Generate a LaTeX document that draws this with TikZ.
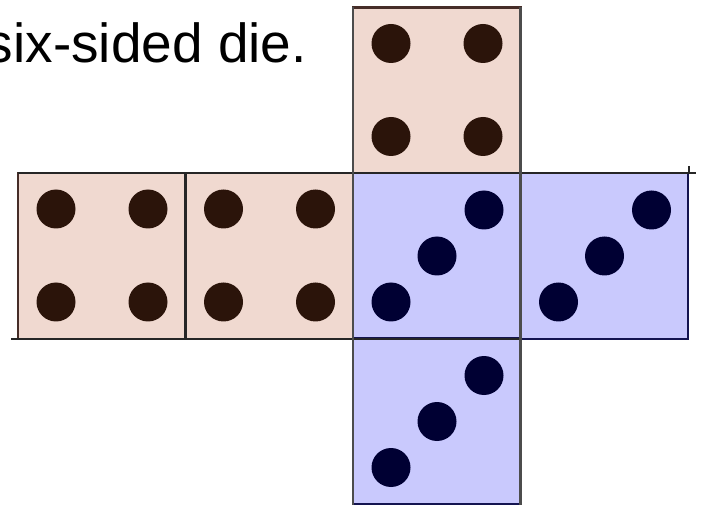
\documentclass[tikz,border=0pt]{standalone}
\usepackage{fontspec}
\setmainfont{Liberation Sans}
\definecolor{pinkface}{RGB}{240,217,208}
\definecolor{blueface}{RGB}{201,201,253}
\definecolor{browndot}{RGB}{43,20,10}
\definecolor{navydot}{RGB}{0,0,51}
\definecolor{brownedge}{RGB}{70,45,40}
\definecolor{navyedge}{RGB}{20,20,80}
\tikzset{
  pinksq/.style={fill=pinkface, draw=brownedge, line width=2.2pt},
  bluesq/.style={fill=blueface, draw=navyedge, line width=2.2pt},
  browndotstyle/.style={fill=browndot},
  navydotstyle/.style={fill=navydot},
  blackline/.style={draw=black!85, line width=2.4pt},
}
\newcommand{\fourface}[3]{%
  \draw[pinksq] (#1,#2) rectangle ++(167.5,166);
  \foreach \dx/\dy in {38/36,130/36,38/129,130/129}
    \fill[browndotstyle] (#1+\dx,#2+\dy) circle (19.5);
  \coordinate (#3) at (#1+84,#2+83);
}
\newcommand{\threeface}[3]{%
  \draw[bluesq] (#1,#2) rectangle ++(167.5,166);
  \foreach \dx/\dy in {131/37,84/83,38/129}
    \fill[navydotstyle] (#1+\dx,#2+\dy) circle (19.5);
  \coordinate (#3) at (#1+84,#2+83);
}
\begin{document}
\begin{tikzpicture}[x=1pt,y=-1pt]
\useasboundingbox (0,0) rectangle (702,505);
\node[anchor=base east, inner sep=0pt, font=\fontsize{55}{60}\selectfont] (title) at (307,63) {six-sided die.};
\fourface{18}{173}{fa}
\fourface{185.5}{173}{fb}
\fourface{353}{7.5}{fc}
\threeface{353}{173}{fd}
\threeface{520.5}{173}{fe}
\threeface{353}{338.5}{ff}
% construction lines
\coordinate (l1a) at (18,173);
\coordinate (l1b) at (696,173);
\coordinate (l2a) at (11,339);
\coordinate (l2b) at (521,339);
\coordinate (t1a) at (689,166);
\coordinate (t1b) at (689,173);
\draw[blackline] (l1a) -- (l1b);
\draw[blackline] (l2a) -- (l2b);
\draw[blackline] (t1a) -- (t1b);
\coordinate (v1a) at (185.5,173);
\coordinate (v1b) at (185.5,339);
\draw[blackline] (v1a) -- (v1b);
\coordinate (v2a) at (353,7.5);
\coordinate (v2b) at (353,504.5);
\coordinate (v3a) at (520.5,7.5);
\coordinate (v3b) at (520.5,504.5);
\draw[blackline, draw=black!70] (v2a) -- (v2b);
\draw[blackline, draw=black!70] (v3a) -- (v3b);
\end{tikzpicture}
\end{document}
